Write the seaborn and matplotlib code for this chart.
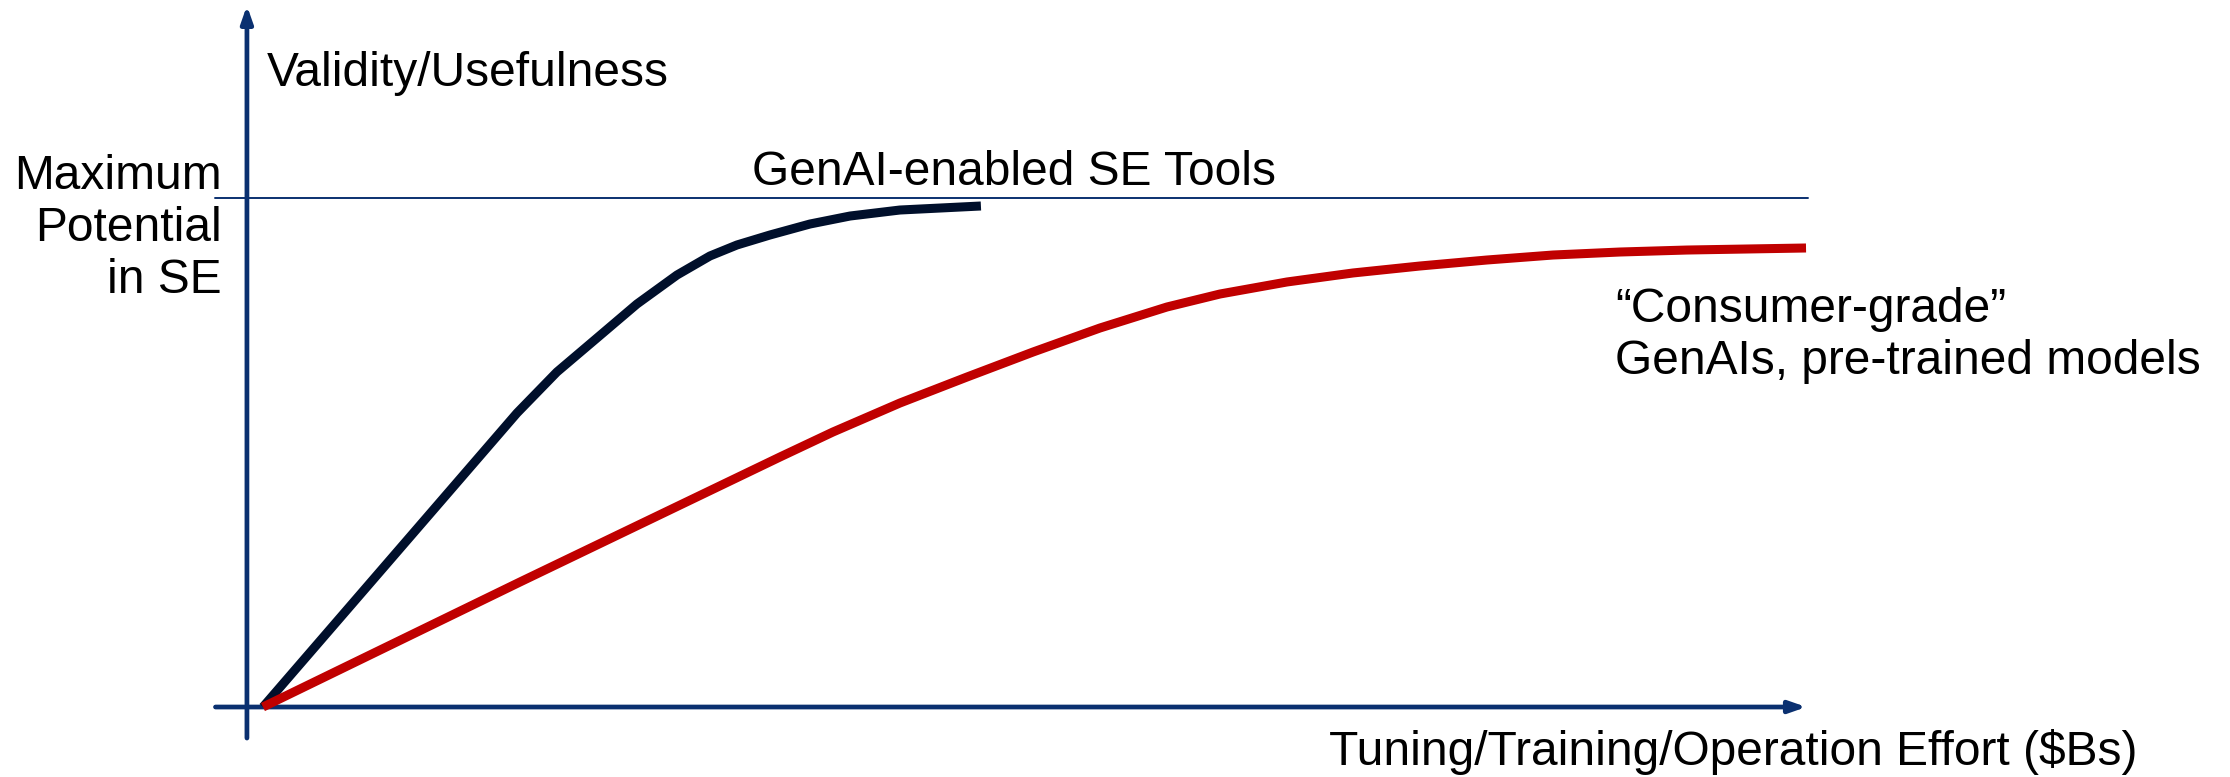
import numpy as np
import pandas as pd
import matplotlib
matplotlib.use("Agg")
import matplotlib.pyplot as plt
import seaborn as sns

sns.set_theme(style="white")
plt.rcParams["font.family"] = ["Liberation Sans", "DejaVu Sans"]

# effort (x) vs validity (y); 100 on y = maximum potential
genai_x = [0.0, 17.12, 19.81, 22.51, 25.20, 27.90, 30.12, 31.94, 34.16,
           36.86, 39.56, 42.92, 48.38]
genai_y = [0.0, 57.76, 65.82, 72.50, 79.17, 84.87, 88.61, 90.77, 92.73,
           94.89, 96.46, 97.64, 98.43]

consumer_x = [0.0, 17.32, 34.84, 38.41, 42.92, 47.44, 51.89, 56.40, 60.92, 64.49,
              69.00, 73.45, 77.96, 82.48, 86.93, 91.44, 95.96, 103.98]
consumer_y = [0.0, 24.56, 49.12, 54.03, 59.72, 64.83, 69.74, 74.46, 78.59, 81.14,
              83.50, 85.27, 86.64, 87.82, 88.80, 89.39, 89.78, 90.18]

max_potential = 100.0

NAVY = "#0a3070"
DARK = "#000f2b"
RED = "#c00000"
FS = 34.5

df = pd.concat([
    pd.DataFrame({"effort": genai_x, "validity": genai_y, "tool": "GenAI-enabled SE Tools"}),
    pd.DataFrame({"effort": consumer_x, "validity": consumer_y, "tool": "Consumer-grade"}),
])

fig = plt.figure(figsize=(22.3, 7.77), dpi=100)
ax = fig.add_axes([0, 0, 1, 1])

sns.lineplot(data=df, x="effort", y="validity", hue="tool", sort=False, estimator=None,
             palette={"GenAI-enabled SE Tools": DARK, "Consumer-grade": RED},
             linewidth=6.5, legend=False, ax=ax, zorder=3)
for ln in ax.lines:
    ln.set_solid_capstyle("butt")
    ln.set_solid_joinstyle("round")

# max potential line
ax.plot([-3.2, 104.1], [max_potential, max_potential], color=NAVY, lw=1.4, zorder=2)

# axes with arrows
arrow = dict(arrowstyle="-|>,head_length=1.0,head_width=0.35", mutation_scale=10,
             lw=3.4, color=NAVY, shrinkA=0, shrinkB=0)
ax.annotate("", xy=(-1.08, 137.8), xytext=(-1.08, -6.1), arrowprops=arrow, zorder=1)
ax.annotate("", xy=(104.0, 0), xytext=(-3.2, 0), arrowprops=arrow, zorder=1)

txt = dict(fontsize=FS, color="black")
ax.text(0.27, 122.0, "Validity/Usefulness", va="baseline", ha="left", **txt)
ax.text(-2.76, 94.1, "Maximum\nPotential\nin SE", va="center", ha="right",
        multialignment="right", **txt)
ax.text(32.95, 102.6, "GenAI-enabled SE Tools", va="baseline", ha="left", **txt)
ax.text(91.1, 72.9, "\u201cConsumer-grade\u201d\nGenAIs, pre-trained models",
        va="center", ha="left", **txt)
ax.text(126.3, -11.4, "Tuning/Training/Operation Effort ($Bs)",
        va="baseline", ha="right", **txt)

ax.set_xlim(-17.72, 132.55)
ax.set_ylim(-13.75, 138.9)
ax.set_axis_off()

fig.savefig("out.png", dpi=100)
